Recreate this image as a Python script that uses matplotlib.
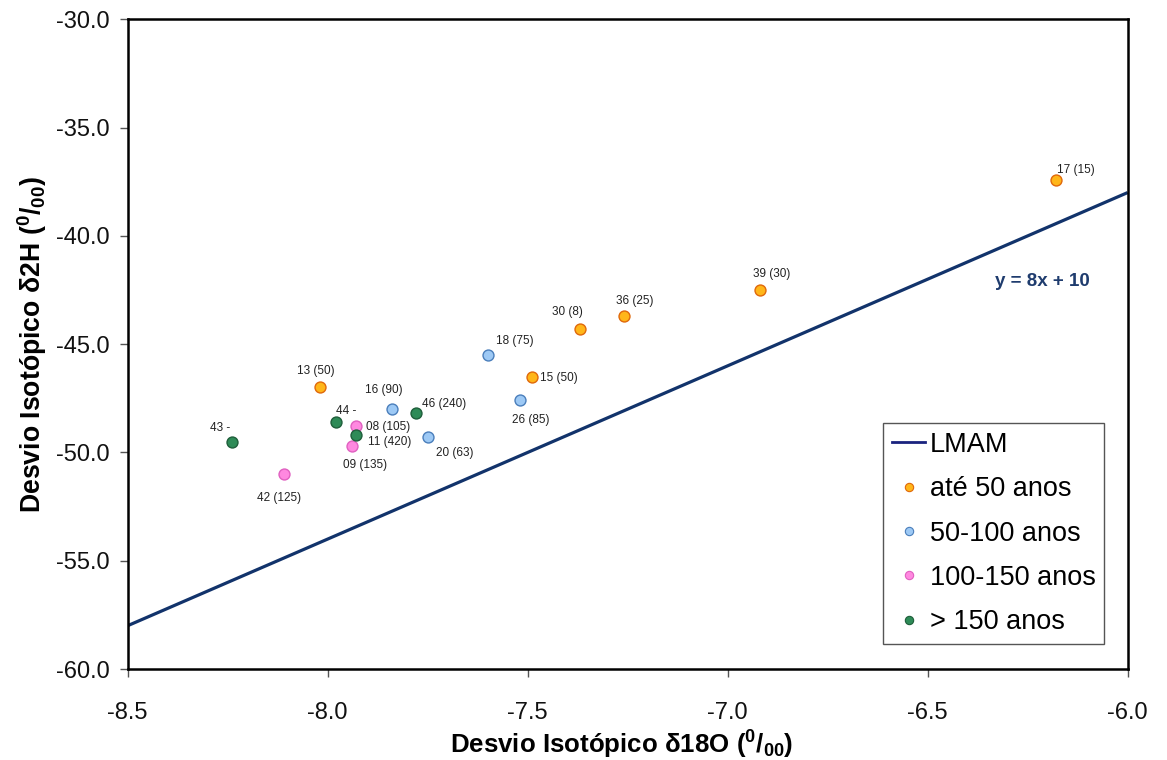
import matplotlib
matplotlib.use("Agg")
import matplotlib.pyplot as plt
from matplotlib.lines import Line2D
import numpy as np

plt.rcParams['font.family'] = ['Liberation Sans', 'DejaVu Sans']
plt.rcParams['axes.unicode_minus'] = False
plt.rcParams['mathtext.fontset'] = 'custom'
plt.rcParams['mathtext.rm'] = 'Liberation Sans'
plt.rcParams['mathtext.bf'] = 'Liberation Sans:bold'
plt.rcParams['mathtext.default'] = 'regular'

# Well samples: id (age in years), delta-18O and delta-2H (per mil), age group
sample_labels = ["17 (15)", "39 (30)", "36 (25)", "30 (8)", "15 (50)", "13 (50)",
                 "18 (75)", "26 (85)", "16 (90)", "20 (63)",
                 "08 (105)", "09 (135)", "42 (125)",
                 "46 (240)", "44 -", "11 (420)", "43 -"]
d18O = [-6.18, -6.92, -7.26, -7.37, -7.49, -8.02,
        -7.60, -7.52, -7.84, -7.75,
        -7.93, -7.94, -8.11,
        -7.78, -7.98, -7.93, -8.24]
d2H = [-37.4, -42.5, -43.7, -44.3, -46.5, -47.0,
       -45.5, -47.6, -48.0, -49.3,
       -48.8, -49.7, -51.0,
       -48.2, -48.6, -49.2, -49.5]
sample_group = [0, 0, 0, 0, 0, 0,
                1, 1, 1, 1,
                2, 2, 2,
                3, 3, 3, 3]

group_names = ["até 50 anos", "50-100 anos", "100-150 anos", "> 150 anos"]

# Local meteoric water line
lmam_slope = 8
lmam_intercept = 10

x_ticks = [-8.5, -8.0, -7.5, -7.0, -6.5, -6.0]
y_ticks = [-60.0, -55.0, -50.0, -45.0, -40.0, -35.0, -30.0]

group_fill = ["#FFB619", "#9DC9F5", "#FF88E0", "#2E8B57"]
group_edge = ["#E0680A", "#4A7EBB", "#E060C0", "#1E5E3A"]
line_color = "#12336B"

# label placement around each marker (pixels) and alignment
label_offsets = {
    "17 (15)": (20, 10, "center"), "39 (30)": (12, 16, "center"),
    "36 (25)": (11, 15, "center"), "30 (8)": (-12, 17, "center"),
    "15 (50)": (8, -1, "left"), "13 (50)": (-4, 16, "center"),
    "18 (75)": (27, 14, "center"), "26 (85)": (11, -20, "center"),
    "16 (90)": (-8, 19, "center"), "20 (63)": (27, -16, "center"),
    "08 (105)": (10, -1, "left"), "09 (135)": (13, -19, "center"),
    "42 (125)": (-5, -24, "center"), "46 (240)": (6, 9, "left"),
    "44 -": (0, 11, "left"), "11 (420)": (12, -7, "left"),
    "43 -": (-12, 14, "center"),
}

W, H = 1167, 760
fig = plt.figure(figsize=(W / 100, H / 100), dpi=100)
ax = fig.add_axes([127.7 / W, 1 - 669.0 / H, 1000.0 / W, 649.7 / H])

xlim = (x_ticks[0], x_ticks[-1])
ylim = (y_ticks[0], y_ticks[-1])
xl = np.array(xlim)
ax.plot(xl, lmam_slope * xl + lmam_intercept, color=line_color, lw=2.3,
        solid_capstyle='butt', zorder=2)

xs = np.array(d18O)
ys = np.array(d2H)
gs = np.array(sample_group)
for g in range(len(group_names)):
    m = gs == g
    ax.scatter(xs[m], ys[m], s=62, c=group_fill[g], edgecolors=group_edge[g],
               linewidths=1.0, zorder=3 + g)

for lab, x, y in zip(sample_labels, d18O, d2H):
    dx, dy, ha = label_offsets[lab]
    ax.annotate(lab, (x, y), xytext=(dx, dy), textcoords='offset pixels',
                ha=ha, va='center', fontsize=8.5, color='#222222', zorder=8)

ax.text(-6.213, -42.1, "y = 8x + 10", color="#1F3C6E", fontsize=13.5,
        fontweight='bold', ha='center', va='center')

ax.set_xlim(*xlim)
ax.set_ylim(*ylim)
ax.set_xticks(x_ticks)
ax.set_yticks(y_ticks)
ax.set_xticklabels([f"{v:.1f}" for v in x_ticks])
ax.set_yticklabels([f"{v:.1f}" for v in y_ticks])
ax.tick_params(direction='out', length=6, width=1, color='#555555',
               labelsize=17, labelcolor='#111111')
ax.tick_params(axis='x', pad=18)
ax.tick_params(axis='y', pad=7)
for sp in ax.spines.values():
    sp.set_linewidth(1.8)
    sp.set_color('black')

ax.set_xlabel(r"Desvio Isotópico δ18O ($^{\mathbf{0}}$/$_{\mathbf{00}}$)",
              fontsize=18.6, fontweight='bold')
ax.set_ylabel(r"Desvio Isotópico δ2H ($^{\mathbf{0}}$/$_{\mathbf{00}}$)",
              fontsize=19.2, fontweight='bold')
ax.xaxis.label.set_va('center')
ax.yaxis.label.set_va('center')
ax.xaxis.set_label_coords(0.494, (669.0 - 745.0) / 649.7)
ax.yaxis.set_label_coords((31.7 - 127.7) / 1000.0, 0.5)

handles = [Line2D([0], [0], color='#1A237E', lw=2)]
for g in range(len(group_names)):
    handles.append(Line2D([0], [0], ls='none', marker='o', markersize=6,
                          markerfacecolor=group_fill[g],
                          markeredgecolor=group_edge[g], markeredgewidth=0.8))
leg = ax.legend(handles, ["LMAM"] + group_names, loc='upper left',
                bbox_to_anchor=(0.755, 0.379), borderaxespad=0,
                fontsize=19.5, frameon=True, fancybox=False, framealpha=1,
                edgecolor='#555555', handlelength=1.25, handletextpad=0.15,
                labelspacing=0.68, borderpad=0.33)
leg.get_frame().set_linewidth(1.0)

fig.savefig("out.png", dpi=100)
